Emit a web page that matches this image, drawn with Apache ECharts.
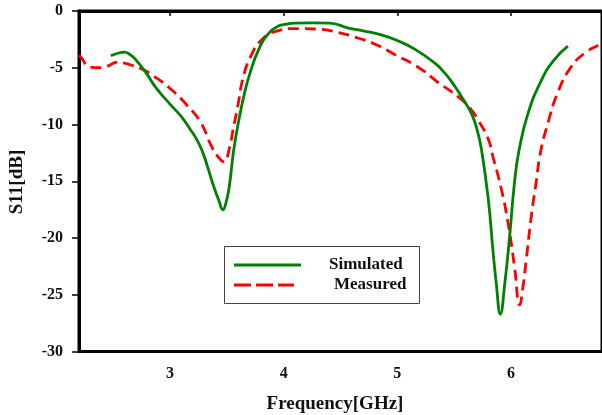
<!DOCTYPE html>
<html>
<head>
<meta charset="utf-8">
<script src="https://cdn.jsdelivr.net/npm/echarts@6/dist/echarts.min.js"></script>
<style>html,body{margin:0;padding:0;background:#fff}#c{width:602px;height:415px}</style>
</head>
<body>
<div id="c"></div>
<script>
var xTicks = [3, 4, 5, 6];
var yTicks = [0, -5, -10, -15, -20, -25, -30];
var seriesNames = ['Simulated', 'Measured'];
var simulated = [
[2.48,-3.95],[2.55,-3.7],[2.60,-3.62],[2.65,-3.85],[2.70,-4.3],[2.79,-5.45],[2.88,-6.8],
[3.00,-8.2],[3.10,-9.3],[3.17,-10.3],[3.24,-11.4],[3.29,-12.5],[3.33,-13.7],[3.37,-15.0],
[3.43,-16.7],[3.467,-17.5],[3.49,-17.0],[3.52,-15.6],[3.56,-12.3],[3.61,-9.4],[3.65,-7.5],
[3.70,-5.6],[3.78,-3.4],[3.87,-1.95],[3.95,-1.35],[4.00,-1.2],[4.10,-1.07],[4.25,-1.05],
[4.40,-1.07],[4.57,-1.5],[4.70,-1.75],[4.86,-2.1],[5.00,-2.6],[5.16,-3.4],[5.33,-4.6],
[5.42,-5.5],[5.51,-6.7],[5.58,-7.8],[5.65,-9.0],[5.70,-10.4],[5.74,-12.2],[5.80,-16.6],
[5.84,-21.0],[5.87,-24.0],[5.906,-26.7],[5.945,-24.0],[5.99,-19.6],[6.03,-15.15],
[6.07,-12.3],[6.15,-9.0],[6.27,-6.05],[6.38,-4.3],[6.50,-3.1]
];
var measured = [
[2.20,-3.9],[2.22,-4.1],[2.26,-4.7],[2.30,-4.95],[2.37,-5.0],[2.45,-4.85],[2.54,-4.5],
[2.60,-4.6],[2.64,-4.7],[2.75,-5.1],[2.86,-5.75],[3.01,-6.9],[3.15,-8.3],[3.27,-9.8],
[3.36,-11.8],[3.42,-12.8],[3.476,-13.3],[3.52,-12.2],[3.56,-10.2],[3.60,-8.2],[3.64,-6.0],
[3.71,-4.0],[3.81,-2.5],[3.93,-1.8],[4.10,-1.55],[4.31,-1.6],[4.48,-1.9],[4.66,-2.4],
[4.81,-2.95],[4.98,-3.85],[5.19,-5.0],[5.36,-6.3],[5.54,-7.6],[5.65,-8.7],[5.71,-9.6],
[5.80,-11.3],[5.84,-12.8],[5.915,-15.7],[5.974,-18.7],[6.03,-22.5],[6.076,-25.9],
[6.105,-24.3],[6.134,-21.9],[6.178,-18.1],[6.22,-15.15],[6.26,-12.4],[6.324,-9.9],
[6.41,-7.2],[6.53,-4.9],[6.65,-3.7],[6.78,-2.95],[6.82,-2.8]
];

var FONT = 'Liberation Serif';
var chart = echarts.init(document.getElementById('c'), null, {renderer: 'canvas'});
chart.setOption({
  animation: false,
  backgroundColor: '#fff',
  grid: {left: 79, top: 11, width: 525.3, height: 340.5, show: true, borderColor: '#000', borderWidth: 3, backgroundColor: 'transparent'},
  xAxis: {
    type: 'value', min: 2.2, max: 6.8,
    axisLine: {show: true, lineStyle: {color: '#000', width: 3}},
    axisTick: {show: true, customValues: xTicks, length: 5, lineStyle: {color: '#000', width: 1.5}},
    axisLabel: {customValues: xTicks, margin: 14, fontFamily: FONT, fontWeight: 'bold', fontSize: 16, color: '#111'},
    splitLine: {show: false}
  },
  yAxis: {
    type: 'value', min: -30, max: 0, interval: 5,
    axisLine: {show: true, lineStyle: {color: '#000', width: 3}},
    axisTick: {show: true, length: 7, lineStyle: {color: '#000', width: 1.5}},
    axisLabel: {margin: 16, fontFamily: FONT, fontWeight: 'bold', fontSize: 16, color: '#111'},
    splitLine: {show: false}
  },
  graphic: [
    {type: 'rect', left: 224, top: 246, shape: {width: 195, height: 57}, style: {fill: 'transparent', stroke: '#444', lineWidth: 1}, z: 1},
    {type: 'line', shape: {x1: 234, y1: 265, x2: 301, y2: 265}, style: {stroke: '#008000', lineWidth: 3}},
    {type: 'line', shape: {x1: 234, y1: 285, x2: 294, y2: 285}, style: {stroke: '#ff0000', lineWidth: 3, lineDash: [17, 5]}},
    {type: 'text', x: 329, y: 265, style: {text: seriesNames[0], font: 'bold 17px "Liberation Serif"', fill: '#111', textAlign: 'left', textVerticalAlign: 'middle'}},
    {type: 'text', x: 334, y: 285, style: {text: seriesNames[1], font: 'bold 17px "Liberation Serif"', fill: '#111', textAlign: 'left', textVerticalAlign: 'middle'}},
    {type: 'text', x: 335, y: 404, style: {text: 'Frequency[GHz]', font: 'bold 19px "Liberation Serif"', fill: '#111', textAlign: 'center', textVerticalAlign: 'middle'}},
    {type: 'text', x: 17, y: 182, rotation: Math.PI / 2, style: {text: 'S11[dB]', font: 'bold 19px "Liberation Serif"', fill: '#111', textAlign: 'center', textVerticalAlign: 'middle'}}
  ],
  series: [
    {name: seriesNames[0], type: 'line', data: simulated, showSymbol: false, symbol: 'none', smooth: 0.5,
     lineStyle: {color: '#008000', width: 2.8}, itemStyle: {color: '#008000'}, clip: true, z: 3},
    {name: seriesNames[1], type: 'line', data: measured, showSymbol: false, symbol: 'none', smooth: 0.5,
     lineStyle: {color: '#ff0000', width: 2.8, type: [11, 6]}, itemStyle: {color: '#ff0000'}, clip: true, z: 2}
  ]
});
</script>
</body>
</html>
